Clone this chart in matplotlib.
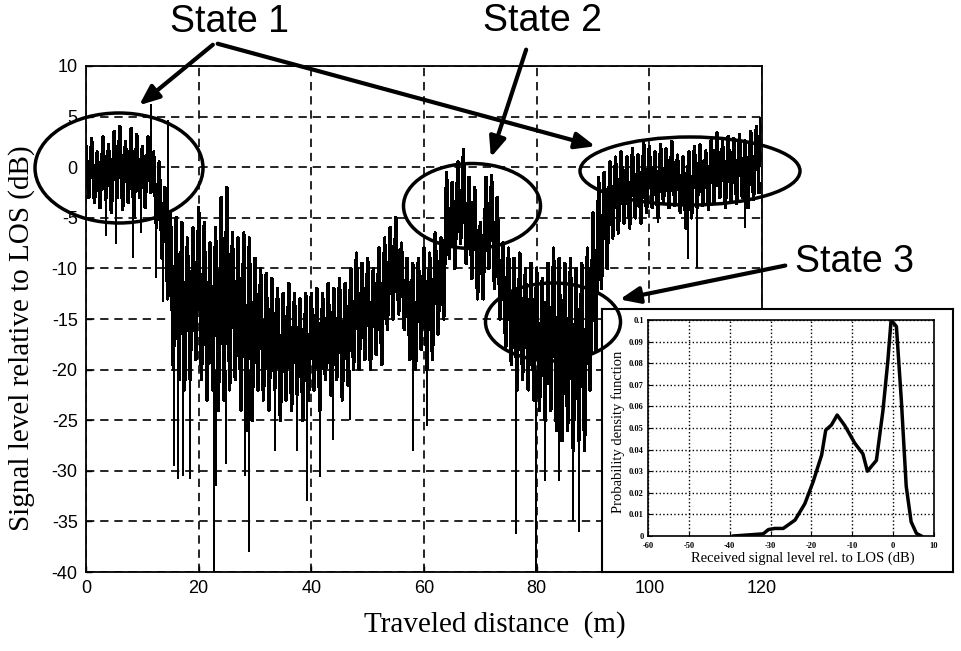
# -*- coding: utf-8 -*-
import numpy as np
import matplotlib
matplotlib.use('Agg')
import matplotlib.pyplot as plt
from matplotlib.patches import Ellipse, FancyArrowPatch

plt.rcParams['axes.unicode_minus'] = False

# ---------------------------------------------------------------------------
# data
# ---------------------------------------------------------------------------
# core band of the signal per metre (upper / lower edge, dB)
sig_hi = [2.0, 2.8, 1.5, 3.0, 2.2, 3.5, 4.0, 2.5, 3.8, 3.2,
          2.0, 3.0, 1.5, 0.5, -2.0, -4.5, -5.0, -5.5, -7.0, -6.0,
          -4.0, -5.5, -7.5, -6.0, -3.0, -2.0, -6.5, -7.0, -6.5, -7.0,
          -9.0, -10.0, -10.5, -11.0, -12.0, -12.5, -11.5, -12.5, -13.0, -12.5,
          -12.5, -12.0, -12.5, -11.5, -12.0, -11.0, -11.5, -10.0, -8.5, -9.5,
          -9.0, -10.0, -8.0, -7.0, -6.0, -5.0, -7.5, -9.0, -9.5, -9.0,
          -8.0, -8.5, -6.5, -7.0, -0.5, -1.5, 0.5, 1.7, -1.0, -2.0,
          -5.5, -1.0, -0.8, -3.0, -7.5, -8.0, -9.0, -8.5, -10.0, -9.5,
          -10.0, -11.0, -9.5, -8.0, -9.0, -9.5, -9.0, -10.0, -9.5, -8.0,
          -4.5, -1.0, -0.5, 0.5, 1.0, 1.5, 1.0, 1.8, 1.2, 2.4,
          2.0, 1.5, 2.2, 1.8, 2.5, 1.2, 1.0, 1.5, 2.0, 2.2,
          1.6, 2.8, 3.4, 2.5, 3.0, 2.8, 3.2, 2.6, 3.5, 4.0]
sig_lo = [-3.0, -3.5, -4.0, -3.2, -4.5, -3.0, -4.2, -3.5, -5.0, -3.0,
          -4.0, -2.5, -6.0, -9.0, -13.0, -20.0, -21.0, -22.0, -21.0, -19.0,
          -21.0, -23.0, -22.0, -24.0, -23.0, -22.0, -21.0, -24.0, -26.0, -25.0,
          -22.0, -23.0, -24.0, -22.0, -25.0, -23.0, -24.0, -22.5, -25.0, -23.0,
          -22.0, -24.0, -21.0, -22.5, -21.0, -23.0, -21.5, -20.0, -20.0, -19.0,
          -20.0, -18.5, -19.5, -16.0, -15.0, -14.5, -16.0, -19.0, -20.0, -18.0,
          -20.0, -19.0, -16.5, -15.0, -9.0, -10.0, -7.5, -9.5, -11.0, -13.0,
          -13.0, -10.0, -12.0, -15.0, -18.0, -19.5, -22.0, -21.0, -22.0, -23.0,
          -24.0, -25.0, -24.0, -26.0, -27.0, -26.0, -28.0, -27.0, -28.0, -22.0,
          -18.0, -12.0, -10.0, -7.0, -6.5, -5.5, -6.0, -5.0, -5.5, -4.5,
          -4.0, -5.0, -3.5, -4.0, -3.8, -4.5, -6.0, -5.0, -4.0, -3.8,
          -4.2, -3.5, -3.0, -4.0, -3.2, -3.6, -3.0, -4.0, -3.2, -2.5]

# isolated deep fades / peaks: position (m), start (dB), end (dB)
spike_x = [3.6, 5.4, 8.3, 9.8, 11.6, 12.5, 13.6, 14.5, 15.7, 16.4,
           17.2, 18.4, 22.7, 23.0, 24.9, 28.3, 28.9, 33.5, 37.5, 39.2,
           41.5, 43.9, 46.8, 58.1, 60.5, 76.4, 79.8, 81.5, 84.0, 86.4,
           87.6, 101.5, 106.9, 108.4, 117.0, 119.7]
spike_from = [-2, -2, -2, -2, -1, -3, -5, -8, -15, -15,
              -15, -15, -20, -20, -20, -20, -20, -20, -20, -20,
              -20, -20, -20, -15, -15, -18, -20, -20, -20, -20,
              -20, -2, -2, -2, -2, 0]
spike_to = [-6.8, -7.6, -9.0, -6.5, 6.2, -10.9, -13.3, 4.7, -29.5, -30.8,
            -30.5, -30.8, -40.0, -31.5, -29.3, -30.5, -38.0, -28.0, -28.0, -33.0,
            -30.6, -27.0, -25.0, -28.0, -25.6, -36.2, -40.0, -31.0, -31.0, -35.0,
            -36.0, -5.5, -9.1, -10.0, -6.0, 5.0]

# inset: pdf of received level
pdf_x = [-39.1, -31.8, -30.5, -28.9, -26.9, -24.0, -21.6, -19.6, -17.5, -16.5,
         -15.1, -13.7, -11.8, -9.4, -7.4, -6.3, -4.1, -2.5, -1.3, -0.5,
         0.8, 2.0, 3.2, 4.4, 5.7, 6.9]
pdf_y = [0.0, 0.001, 0.003, 0.0035, 0.0035, 0.0074, 0.015, 0.025, 0.0375, 0.049,
         0.0514, 0.056, 0.051, 0.043, 0.038, 0.030, 0.035, 0.058, 0.081, 0.100,
         0.097, 0.063, 0.023, 0.0066, 0.0012, 0.0]

W, H = 962, 651
fig = plt.figure(figsize=(W / 100, H / 100), dpi=100)
fig.patch.set_facecolor('white')


def fx(x):
    return x / W


def fy(y):
    return 1 - y / H


# ---------------------------------------------------------------------------
# main axes
# ---------------------------------------------------------------------------
ax = fig.add_axes([fx(86), fy(572), fx(762) - fx(86), fy(66) - fy(572)])

# zigzag through the core band: upper edge at i, lower edge at i + 0.5
zz_x = []
zz_y = []
for i, (h, l) in enumerate(zip(sig_hi, sig_lo)):
    zz_x += [i, i + 0.5]
    zz_y += [h, l]
ax.plot(zz_x, zz_y, color='k', lw=1.8, zorder=3, antialiased=False)
ax.vlines(spike_x, spike_from, spike_to, color='k', lw=1.3, zorder=3,
          antialiased=False)

ax.set_xlim(0, 120)
ax.set_ylim(-40, 10)
ax.set_xticks(np.arange(0, 121, 20))
ax.set_yticks(np.arange(-40, 11, 5))
ax.grid(True, color='k', linestyle=(0, (5, 3.5)), linewidth=1.2)
ax.tick_params(direction='in', length=4, width=1, labelsize=13, pad=6)
for lab in ax.get_xticklabels() + ax.get_yticklabels():
    lab.set_family('Liberation Sans')
for sp in ax.spines.values():
    sp.set_linewidth(1.3)

ax.set_xlabel('Traveled distance  (m)', family='Liberation Serif', fontsize=21)
ax.xaxis.label.set_va('center')
ax.xaxis.set_label_coords((495 - 86) / 676, (572 - 625) / 506)
ax.set_ylabel('Signal level relative to LOS (dB)', family='Liberation Serif',
              fontsize=21)
ax.yaxis.label.set_va('center')
ax.yaxis.set_label_coords((22 - 86) / 676, (572 - 338) / 506)

# ---------------------------------------------------------------------------
# inset with the pdf
# ---------------------------------------------------------------------------
box = fig.add_axes([fx(602), fy(572), fx(953) - fx(602), fy(309) - fy(572)])
box.set_xticks([])
box.set_yticks([])
box.set_facecolor('white')
for sp in box.spines.values():
    sp.set_linewidth(1.5)

ins = fig.add_axes([fx(648), fy(536), fx(934) - fx(648), fy(320) - fy(536)])
ins.plot(pdf_x, pdf_y, color='k', lw=2.5)
ins.set_xlim(-60, 10)
ins.set_ylim(0, 0.1)
ins.set_xticks(np.arange(-60, 11, 10))
ins.set_yticks(np.arange(0, 0.101, 0.01))
ins.set_yticklabels(['0'] + ['%.2f' % v for v in np.arange(0.01, 0.095, 0.01)] + ['0.1'])
ins.grid(True, color='k', linestyle=':', linewidth=1.0)
ins.tick_params(direction='in', length=3, labelsize=6)
ins.tick_params(axis='x', pad=4)
ins.tick_params(axis='y', pad=3)
for lab in ins.get_xticklabels() + ins.get_yticklabels():
    lab.set_family('Liberation Serif')
    lab.set_weight('bold')
for sp in ins.spines.values():
    sp.set_linewidth(1.2)
ins.set_xlabel('Received signal level rel. to LOS (dB)',
               family='Liberation Serif', fontsize=10.5)
ins.xaxis.label.set_va('center')
ins.xaxis.set_label_coords((803 - 648) / 286, (536 - 558) / 216)
ins.set_ylabel('Probability density function', family='Liberation Serif',
               fontsize=10.5)
ins.yaxis.label.set_va('center')
ins.yaxis.set_label_coords((618 - 648) / 286, (536 - 432) / 216)

# ---------------------------------------------------------------------------
# state annotations (figure pixels)
# ---------------------------------------------------------------------------
for txt, x, y in [('State 1', 230, 22), ('State 2', 543, 21), ('State 3', 855, 262)]:
    fig.text(fx(x), fy(y), txt, ha='center', va='center', fontsize=27,
             family='Liberation Sans')

# ellipses: centre x, centre y, width, height (pixels)
for cx, cy, w, h in [(119, 168, 168, 110), (472, 206, 137, 85),
                     (690, 171, 220, 68), (553, 322, 135, 78)]:
    fig.add_artist(Ellipse((fx(cx), fy(cy)), w / W, h / H, fill=False,
                           edgecolor='k', lw=2.5, transform=fig.transFigure,
                           zorder=5))

# arrows: start -> tip (pixels)
for (x0, y0), (x1, y1) in [((215, 43), (137, 107)), ((215, 43), (598, 147)),
                           ((527, 47), (490, 160)), ((788, 265), (617, 300))]:
    fig.add_artist(FancyArrowPatch(
        (fx(x0), fy(y0)), (fx(x1), fy(y1)), transform=fig.transFigure,
        arrowstyle='-|>,head_length=12,head_width=5', mutation_scale=1,
        color='k', lw=3, zorder=6))

plt.savefig('out.png', dpi=100)
plt.close()
